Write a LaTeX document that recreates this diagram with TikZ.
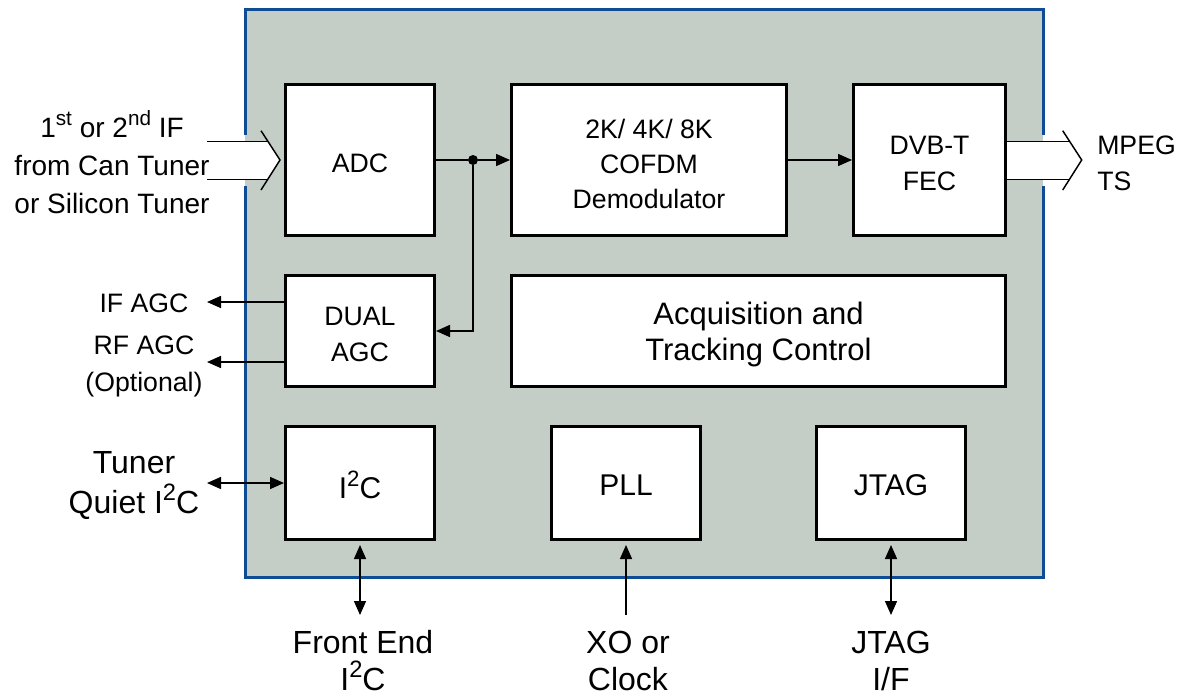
\documentclass[tikz,border=0pt]{standalone}
\usepackage{fontspec}
\usepackage{graphicx}
\setmainfont{Liberation Sans}
\usetikzlibrary{arrows.meta}
\definecolor{chipfill}{RGB}{196,206,198}
\definecolor{chipblue}{RGB}{14,76,150}
\newcommand{\supr}[1]{\raisebox{0.42em}{\scalebox{0.74}{#1}}}
\begin{document}
\begin{tikzpicture}[x=0.75pt,y=-0.75pt,
  blk/.style={draw=black,line width=2.25pt,fill=white,inner sep=0pt},
  intxt/.style={align=center,inner sep=0pt},
  toptxt/.style={intxt,font=\fontsize{20}{27}\selectfont,yshift=-2.5pt},
  bigtxt/.style={intxt,font=\fontsize{22.5}{27}\selectfont,yshift=-1.5pt},
  wire/.style={line width=1.1pt},
  arr/.style={wire,-{Triangle[length=10.5pt,width=9pt]}},
  barr/.style={wire,{Triangle[length=10.5pt,width=9pt]}-{Triangle[length=10.5pt,width=9pt]}},
  lbl/.style={align=center,inner sep=0pt},
  border/.style={chipblue,line width=2.25pt}]
\useasboundingbox (0,0) rectangle (1186,696);
% chip body
\fill[chipfill] (245,9) rectangle (1043,577);
\draw[border] (245,135) -- (245,9) -- (1043,9) -- (1043,135);
\draw[border] (245,186) -- (245,577) -- (1043,577) -- (1043,186);
% blocks
\node[blk,minimum width=111.75pt,minimum height=113.25pt,
  label={[toptxt]center:ADC}] (adc) at (360,160) {};
\node[blk,minimum width=206.25pt,minimum height=113.25pt,
  label={[toptxt,font=\fontsize{20}{26.25}\selectfont,yshift=-0.5pt]center:{2K/ 4K/ 8K\\COFDM\\Demodulator}}] (cofdm) at (649,160) {};
\node[blk,minimum width=114pt,minimum height=113.25pt,
  label={[toptxt]center:{DVB-T\\FEC}}] (fec) at (929.5,160) {};
\node[blk,minimum width=111.75pt,minimum height=83.25pt,
  label={[toptxt]center:{DUAL\\AGC}}] (agc) at (360,331) {};
\node[blk,minimum width=370.5pt,minimum height=83.25pt,
  label={[toptxt,font=\fontsize{23.25}{27.5}\selectfont]center:{Acquisition and\\Tracking Control}}] (acq) at (758.5,331) {};
\node[blk,minimum width=111.75pt,minimum height=84.75pt,
  label={[bigtxt]center:I\supr{2}C}] (i2c) at (360,483) {};
\node[blk,minimum width=111.75pt,minimum height=84.75pt,
  label={[bigtxt]center:PLL}] (pll) at (626,483) {};
\node[blk,minimum width=111.75pt,minimum height=84.75pt,
  label={[bigtxt]center:JTAG}] (jtag) at (891,483) {};
% junction and connectors
\node[circle,fill=black,inner sep=0pt,minimum size=7.5pt] (j) at (473,160) {};
\draw[wire] (adc.east) -- (j);
\draw[arr] (j) -- (cofdm.west);
\draw[arr] (j) |- (agc.east);
\draw[arr] (cofdm.east) -- (fec.west);
% AGC outputs
\coordinate (ift) at (207,302);
\coordinate (rft) at (207,362);
\draw[arr] (agc.west |- ift) -- (ift);
\draw[arr] (agc.west |- rft) -- (rft);
% tuner I2C
\coordinate (tqt) at (207,483);
\draw[barr] (i2c.west) -- (tqt);
% bottom connectors
\coordinate (fet) at (360,615);
\coordinate (xot) at (626,615);
\coordinate (jtt) at (891,615);
\draw[barr,shorten <=3pt] (i2c.south) -- (fet);
\draw[arr,shorten >=3pt] (xot) -- (pll.south);
\draw[barr,shorten <=3pt] (jtag.south) -- (jtt);
% input fat arrow
\fill[white] (207,141.7) -- (268.1,141.7) -- (280,160) -- (268.1,179.3) -- (207,179.3) -- cycle;
\draw[wire] (207,141.7) -- (268.1,141.7);
\draw[wire] (207,179.3) -- (268.1,179.3);
\draw[wire] (261,130.7) -- (280,160) -- (261,190);
% output fat arrow
\fill[white] (1007,141.7) -- (1069.8,141.7) -- (1081.7,160) -- (1069.8,179.3) -- (1007,179.3) -- cycle;
\draw[wire] (fec.east |- 0,141.7) -- (1069.8,141.7);
\draw[wire] (fec.east |- 0,179.3) -- (1069.8,179.3);
\draw[wire] (1062.7,130.7) -- (1081.7,160) -- (1062.7,190);
% labels
\node[lbl,font=\fontsize{21}{28.5}\selectfont] (ifin) at (112,162) {1\supr{st} or 2\supr{nd} IF\\from Can Tuner\\or Silicon Tuner};
\node[lbl,align=left,anchor=west,font=\fontsize{20}{27}\selectfont] (mpeg) at (1097,163) {MPEG\\TS};
\node[lbl,font=\fontsize{20}{27.75}\selectfont] (ifagc) at (144,303) {IF AGC};
\node[lbl,font=\fontsize{20}{27.75}\selectfont] (rfagc) at (144,366) {RF AGC\\(Optional)};
\node[lbl,font=\fontsize{24}{30}\selectfont] (tuner) at (134,486) {Tuner\\Quiet I\supr{2}C};
\node[lbl,font=\fontsize{24}{27.75}\selectfont] (fe) at (363,661) {Front End\\I\supr{2}C};
\node[lbl,font=\fontsize{24}{27.75}\selectfont] (xo) at (628,661) {XO or\\Clock};
\node[lbl,font=\fontsize{24}{27.75}\selectfont] (jt) at (891,661) {JTAG\\I/F};
\end{tikzpicture}
\end{document}
